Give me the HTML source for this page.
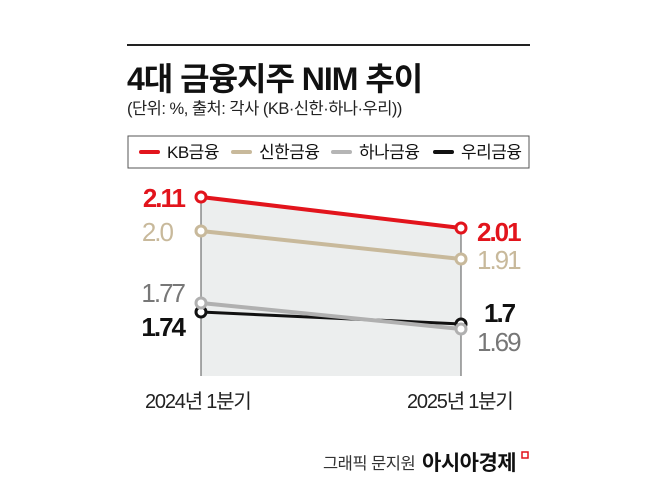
<!DOCTYPE html>
<html><head><meta charset="utf-8"><style>
body{margin:0;background:#fff;width:658px;height:490px;overflow:hidden;font-family:"Liberation Sans","Noto Sans CJK KR",sans-serif;}
</style></head><body>
<svg width="658" height="490" xmlns="http://www.w3.org/2000/svg" style="font-family:'Liberation Sans','Noto Sans CJK KR',sans-serif">
<line x1="127" y1="45" x2="530" y2="45" stroke="#222" stroke-width="2"/>
<text x="127" y="90" font-size="32" font-weight="bold" fill="#111" letter-spacing="-1">4대 금융지주 NIM 추이</text>
<text x="127" y="114" font-size="16.5" fill="#222" letter-spacing="-0.5">(단위: %, 출처: 각사 (KB·신한·하나·우리))</text>
<rect x="128" y="136" width="401" height="32" fill="#fff" stroke="#555" stroke-width="1"/>
<g stroke-width="4" stroke-linecap="round">
<line x1="141" y1="152" x2="158" y2="152" stroke="#e2141c"/>
<line x1="233" y1="152" x2="250" y2="152" stroke="#c8b99b"/>
<line x1="333" y1="152" x2="350" y2="152" stroke="#b5b5b5"/>
<line x1="435" y1="152" x2="452" y2="152" stroke="#111"/>
</g>
<g font-size="17" fill="#111" letter-spacing="-0.5">
<text x="167" y="158">KB금융</text>
<text x="259" y="158">신한금융</text>
<text x="359" y="158">하나금융</text>
<text x="461" y="158">우리금융</text>
</g>
<polygon points="201,197 461,228 461,376 201,376" fill="#eceeee"/>
<line x1="201" y1="197" x2="201" y2="376" stroke="#555" stroke-width="1"/>
<line x1="461" y1="228" x2="461" y2="376" stroke="#555" stroke-width="1"/>
<g fill="#fff" stroke-width="3">
<line x1="201" y1="231" x2="461" y2="259" stroke="#c8b99b" stroke-width="4"/>
<line x1="201" y1="312" x2="461" y2="324" stroke="#111" stroke-width="3"/>
<line x1="201" y1="303" x2="461" y2="329" stroke="#b0b0b0" stroke-width="4"/>
<line x1="201" y1="197" x2="461" y2="228" stroke="#e2141c" stroke-width="4"/>
<circle cx="201" cy="312" r="5" stroke="#111"/>
<circle cx="461" cy="324" r="5" stroke="#111"/>
<circle cx="201" cy="303" r="5" stroke="#b0b0b0"/>
<circle cx="461" cy="329" r="5" stroke="#b0b0b0"/>
<circle cx="201" cy="231" r="5" stroke="#c8b99b"/>
<circle cx="461" cy="259" r="5" stroke="#c8b99b"/>
<circle cx="201" cy="197" r="5" stroke="#e2141c"/>
<circle cx="461" cy="228" r="5" stroke="#e2141c"/>
</g>
<g font-size="26" letter-spacing="-2">
<text x="184" y="207" text-anchor="end" fill="#e2141c" font-weight="bold">2.11</text>
<text x="172" y="241" text-anchor="end" fill="#c8b99b">2.0</text>
<text x="184" y="302" text-anchor="end" fill="#777">1.77</text>
<text x="184" y="336" text-anchor="end" fill="#111" font-weight="bold">1.74</text>
<text x="477" y="241" fill="#e2141c" font-weight="bold">2.01</text>
<text x="477" y="269" fill="#c8b99b">1.91</text>
<text x="484" y="322" fill="#111" font-weight="bold">1.7</text>
<text x="477" y="351" fill="#777">1.69</text>
</g>
<g font-size="20" fill="#222" letter-spacing="-1.2">
<text x="145" y="408">2024년 1분기</text>
<text x="407" y="408">2025년 1분기</text>
</g>
<text x="323" y="469" font-size="16.5" fill="#333" letter-spacing="-0.5">그래픽 문지원</text>
<text x="422" y="470" font-size="21" font-weight="bold" fill="#111" letter-spacing="-0.5">아시아경제</text>
<path d="M522 452 h6 v6 h-6z" fill="none" stroke="#e2141c" stroke-width="1.5"/>
</svg>
</body></html>
